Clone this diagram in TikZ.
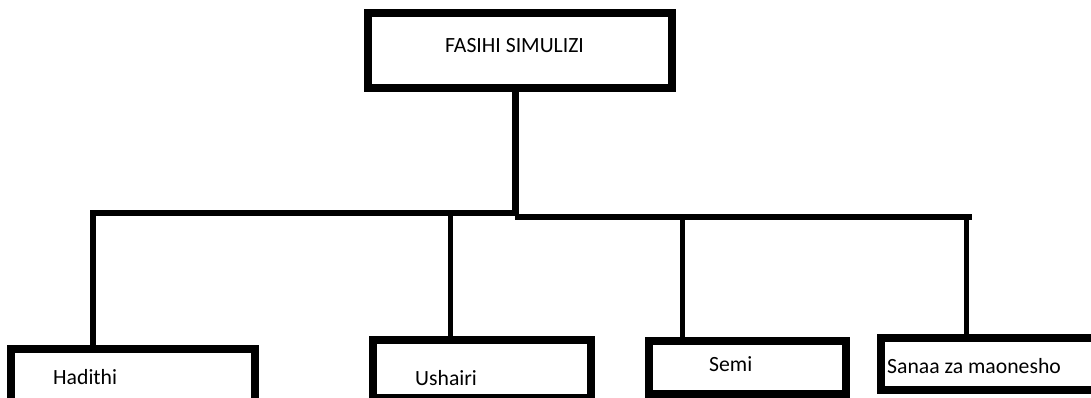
\documentclass[tikz,border=0pt]{standalone}
\usepackage{fontspec}
\setmainfont{Carlito}
\usetikzlibrary{positioning,calc}

\begin{document}
\begin{tikzpicture}[x=1pt,y=-1pt,
	box/.style={draw,rectangle,line width=8pt,inner sep=0pt,outer sep=0pt},
	lbl/.style={inner sep=0pt,anchor=base west,font=\fontsize{21.7}{26}\selectfont},
	conn/.style={line width=6pt}]
	\useasboundingbox (0,0) rectangle (1091,398);
	\clip (0,0) rectangle (1091,398);
	
	% Radice
	\node[box,minimum width=304pt,minimum height=75pt] (fasihi) at (520,50.5) {};
	\node[lbl] (tfasihi) at (445,53) {FASIHI SIMULIZI};
	
	% Tanzu
	\node[box,minimum width=244pt,minimum height=53pt] (hadithi) at (133,375.5) {};
	\node[lbl] (thadithi) at (53,384) {Hadithi};
	\node[box,minimum width=218pt,minimum height=58pt] (ushairi) at (482,369) {};
	\node[lbl] (tushairi) at (415,385) {Ushairi};
	\node[box,minimum width=197pt,minimum height=53pt] (semi) at (747.5,367.5) {};
	\node[lbl] (tsemi) at (709,371) {Semi};
	\node[box,minimum width=220pt,minimum height=52pt] (sanaa) at (991,364) {};
	\node[lbl] (tsanaa) at (887,373) {Sanaa za maonesho};
	
	% Mistari
	\coordinate (jn) at (515,216);
	\coordinate (jl) at (93,213);
	\coordinate (jr) at (972,217);
	\draw[conn,line width=7pt] (jn |- fasihi.south) -- (jn);
	\draw[conn] (jl) -- (jn |- jl);
	\draw[conn] (jn |- jr) -- (jr);
	\draw[conn] ($(jl)+(0,-3)$) -- (jl |- hadithi.north);
	\draw[conn,line width=5pt] (450,213) -- (450,336) coordinate (ushtop);
	\draw[conn,line width=5pt] (682,217) -- (682,337) coordinate (semtop);
	\draw[conn,line width=5pt] (966,217) -- (966,334) coordinate (santop);
\end{tikzpicture}
\end{document}
